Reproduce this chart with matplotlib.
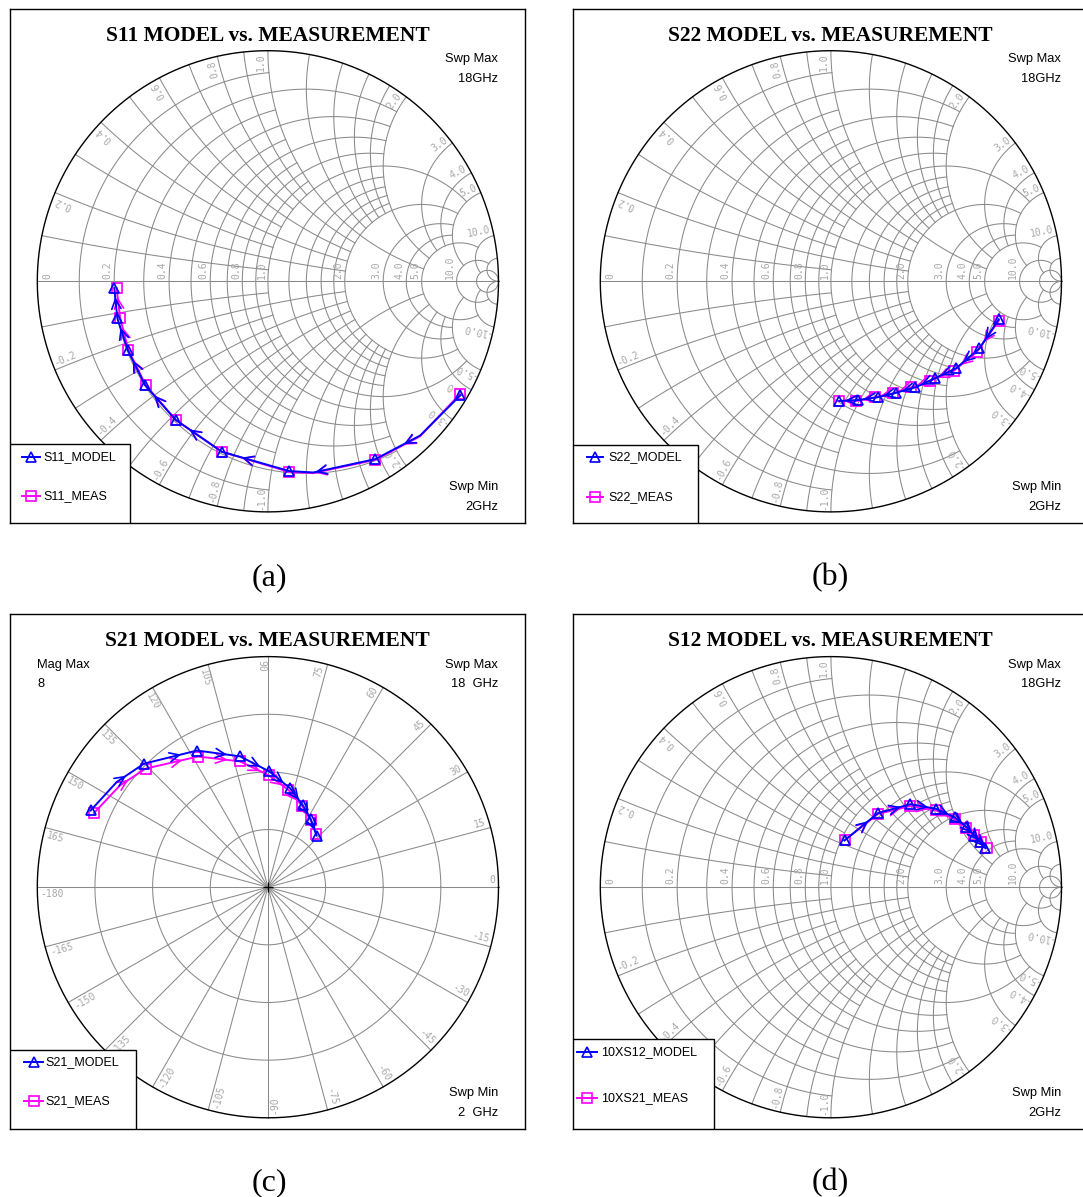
import numpy as np
import matplotlib
matplotlib.use("Agg")
import matplotlib.pyplot as plt
from matplotlib.patches import Rectangle

FIG_W, FIG_H = 1083, 1197

# ---------------- data ----------------
# S11 (reflection coefficient, real / imag); trace vertices and marker indices
s11_model_re = [0.835, 0.660, 0.466, 0.197, 0.093, -0.200, -0.400, -0.533, -0.608, -0.653, -0.666]
s11_model_im = [-0.494, -0.669, -0.771, -0.829, -0.823, -0.739, -0.601, -0.450, -0.298, -0.160, -0.030]
s11_meas_re = [0.832, 0.660, 0.466, 0.195, 0.090, -0.200, -0.400, -0.530, -0.605, -0.641, -0.656]
s11_meas_im = [-0.490, -0.672, -0.774, -0.832, -0.826, -0.739, -0.601, -0.450, -0.298, -0.158, -0.030]
s11_markers = [0, 2, 4, 5, 6, 7, 8, 9, 10]

# S22
s22_model_re = [0.728, 0.644, 0.543, 0.450, 0.366, 0.284, 0.203, 0.118, 0.037]
s22_model_im = [-0.165, -0.291, -0.377, -0.421, -0.460, -0.483, -0.503, -0.515, -0.519]
s22_meas_re = [0.728, 0.634, 0.533, 0.431, 0.349, 0.270, 0.190, 0.111, 0.034]
s22_meas_im = [-0.171, -0.305, -0.388, -0.431, -0.460, -0.486, -0.503, -0.519, -0.519]
s22_markers = [0, 1, 2, 3, 4, 5, 6, 7, 8]

# S21 (magnitude, angle in degrees), polar chart with Mag Max 8
s21_model_mag = [6.70, 6.39, 6.07, 5.34, 4.64, 4.02, 3.52, 3.09, 2.79, 2.46]
s21_model_ang = [156.6, 145.2, 135.1, 117.4, 102.0, 89.4, 77.4, 66.9, 57.8, 46.7]
s21_meas_mag = [6.56, 6.23, 5.91, 5.14, 4.47, 3.88, 3.45, 3.06, 2.76, 2.50]
s21_meas_ang = [156.9, 145.5, 135.9, 118.1, 102.5, 89.5, 78.1, 67.2, 57.4, 47.6]
s21_markers = [0, 2, 3, 4, 5, 6, 7, 8, 9]
S21_MAG_MAX = 8
S21_RINGS = [2, 4, 6]

# 10 x S12 model / 10 x S21 meas (reflection plane)
s12_model_re = [0.059, 0.205, 0.345, 0.456, 0.536, 0.588, 0.622, 0.648, 0.670]
s12_model_im = [0.203, 0.322, 0.360, 0.340, 0.303, 0.261, 0.224, 0.194, 0.169]
s12_meas_re = [0.059, 0.205, 0.345, 0.456, 0.536, 0.588, 0.622, 0.651, 0.677]
s12_meas_im = [0.203, 0.318, 0.352, 0.333, 0.295, 0.258, 0.228, 0.196, 0.169]
s12_markers = [0, 1, 2, 3, 4, 5, 6, 7, 8]

# Smith grid: constant-R circles / constant-X arcs and the limit of the other coordinate
SMITH_R = [0.1, 0.2, 0.3, 0.4, 0.5, 0.6, 0.7, 0.8, 0.9, 1.0, 1.2, 1.4, 1.6, 1.8, 2.0, 3.0, 4.0, 5.0, 10.0, 20.0]
SMITH_LIM = [1, 2, 1, 2, 1, 2, 1, 2, 1, 5, 2, 2, 2, 2, 5, 5, 5, 10, 20, np.inf]
SMITH_AXIS_LABELS = [0, 0.2, 0.4, 0.6, 0.8, 1.0, 2.0, 3.0, 4.0, 5.0, 10.0]
SMITH_RIM_LABELS = [0.2, 0.4, 0.6, 0.8, 1.0, 2.0, 3.0, 4.0, 5.0, 10.0]

BLUE = "#0000ff"
MAG = "#ff00ff"
GRID = "#8a8a8a"
LBL = "#a8a8a8"
SANS = "Liberation Sans"
SERIF = "Liberation Serif"
MONO = "DejaVu Sans Mono"
LBL_FS = 7.0

fig = plt.figure(figsize=(FIG_W / 100, FIG_H / 100), dpi=100)

BOX_W, BOX_H = 514.8, 514.1
OX, OY, RPX = 257.6, 272.7, 230.6


def rel(px, py):
    return ((px - OX) / RPX, (OY - py) / RPX)


def make_panel(bx, by):
    ax = fig.add_axes([bx / FIG_W, 1 - (by + BOX_H) / FIG_H, BOX_W / FIG_W, BOX_H / FIG_H])
    ax.set_xlim(-OX / RPX, (BOX_W - OX) / RPX)
    ax.set_ylim(-(BOX_H - OY) / RPX, OY / RPX)
    ax.set_xticks([])
    ax.set_yticks([])
    for s in ax.spines.values():
        s.set_linewidth(1.0)
        s.set_color("black")
    return ax


def gam(z):
    return (z - 1) / (z + 1)


def draw_rim(ax):
    th = np.linspace(0, 2 * np.pi, 1200)
    ax.plot(np.cos(th), np.sin(th), color="black", lw=1.0, zorder=2)


def draw_smith(ax):
    for r, lim in zip(SMITH_R, SMITH_LIM):
        t = np.linspace(-np.arctan(lim), np.arctan(lim), 900)
        g = gam(r + 1j * np.tan(t))
        ax.plot(g.real, g.imag, color=GRID, lw=0.75, zorder=1)
    for x, lim in zip(SMITH_R, SMITH_LIM):
        t = np.linspace(0, np.arctan(lim), 900)
        for sgn in (1, -1):
            g = gam(np.tan(t) + 1j * sgn * x)
            ax.plot(g.real, g.imag, color=GRID, lw=0.75, zorder=1)
    ax.plot([-1, 1], [0, 0], color=GRID, lw=0.75, zorder=1)
    draw_rim(ax)
    for r in SMITH_AXIS_LABELS:
        gx = (r - 1) / (r + 1)
        txt = "0" if r == 0 else f"{r:.1f}"
        if r == 0:
            ax.annotate(txt, (gx, 0), xytext=(4, 2), textcoords="offset points", rotation=90,
                        rotation_mode="anchor", ha="left", va="top", fontsize=LBL_FS,
                        color=LBL, family=MONO, zorder=3)
        else:
            ax.annotate(txt, (gx, 0), xytext=(-1, 2), textcoords="offset points", rotation=90,
                        rotation_mode="anchor", ha="left", va="bottom", fontsize=LBL_FS,
                        color=LBL, family=MONO, zorder=3)
    for x in SMITH_RIM_LABELS:
        for sgn in (1, -1):
            g = gam(1j * sgn * x)
            th = np.angle(g)
            p = 0.99 * g
            if sgn > 0:
                rot = np.degrees(th)
                ha = "right"
                up = th + np.pi / 2
                txt = f"{x:.1f}"
            else:
                rot = np.degrees(th) + 180
                ha = "left"
                up = th - np.pi / 2
                txt = f"-{x:.1f}"
            ax.annotate(txt, (p.real, p.imag), xytext=(1.3 * np.cos(up), 1.3 * np.sin(up)),
                        textcoords="offset points", rotation=rot, rotation_mode="anchor",
                        ha=ha, va="bottom", fontsize=LBL_FS, color=LBL, family=MONO, zorder=3)


def draw_polar(ax):
    th = np.linspace(0, 2 * np.pi, 1200)
    for m in S21_RINGS:
        rr = m / S21_MAG_MAX
        ax.plot(rr * np.cos(th), rr * np.sin(th), color=GRID, lw=0.75, zorder=1)
    for a in range(-165, 181, 15):
        ar = np.radians(a)
        ax.plot([0, np.cos(ar)], [0, np.sin(ar)], color=GRID, lw=0.75, zorder=1)
    draw_rim(ax)
    ax.plot([0], [0], marker="+", ms=7, color="black", mew=0.9, zorder=3)
    for a in range(-165, 181, 15):
        ar = np.radians(a)
        p = (0.985 * np.cos(ar), 0.985 * np.sin(ar))
        lab = "-180" if a == 180 else str(a)
        up = ar + np.pi / 2
        off = (1.3 * np.cos(up), 1.3 * np.sin(up))
        if -90 < a < 90:
            rot, ha, va = a, "right", "bottom"
        else:
            rot = a - 180 if a >= 90 else a + 180
            ha, va = "left", "top"
        ax.annotate(lab, p, xytext=off, textcoords="offset points", rotation=rot,
                    rotation_mode="anchor", ha=ha, va=va, fontsize=LBL_FS, color=LBL,
                    family=MONO, zorder=3)


def draw_trace(ax, xs, ys, mk, color, marker, z):
    xs = np.asarray(xs, float)
    ys = np.asarray(ys, float)
    ax.plot(xs, ys, color=color, lw=1.4, zorder=z, solid_joinstyle="round")
    ax.plot(xs[mk], ys[mk], ls="none", marker=marker, ms=7.8, mfc="none", mec=color,
            mew=1.25, zorder=z + 0.5)
    for i0, i1 in zip(mk[:-1], mk[1:]):
        px = xs[i0:i1 + 1]
        py = ys[i0:i1 + 1]
        seg = np.hypot(np.diff(px), np.diff(py))
        cum = np.concatenate([[0], np.cumsum(seg)])
        target = 0.7 * cum[-1]
        k = min(np.searchsorted(cum, target) - 1, len(seg) - 1)
        k = max(k, 0)
        f = (target - cum[k]) / seg[k]
        tx = px[k] + f * (px[k + 1] - px[k])
        ty = py[k] + f * (py[k + 1] - py[k])
        dx = (px[k + 1] - px[k]) / seg[k]
        dy = (py[k + 1] - py[k]) / seg[k]
        ax.annotate("", xy=(tx, ty), xytext=(tx - 0.015 * dx, ty - 0.015 * dy),
                    arrowprops=dict(arrowstyle="->,head_length=0.7,head_width=0.33",
                                    color=color, lw=1.2, shrinkA=0, shrinkB=0),
                    zorder=z + 0.2)


def panel_text(ax, title, top_right, bottom_right, top_left=None):
    x, y = rel(257.4, 32.0)
    ax.text(x, y, title, ha="center", va="baseline", fontsize=15.5, fontweight="bold",
            family=SERIF, zorder=7)
    for (txt, ry) in zip(top_right, (50.8, 69.9)):
        x, y = rel(488.0, ry)
        ax.text(x, y, txt, ha="right", va="center", fontsize=9.3, family=SANS, zorder=7)
    for (txt, ry) in zip(bottom_right, (478.7, 498.4)):
        x, y = rel(488.0, ry)
        ax.text(x, y, txt, ha="right", va="center", fontsize=9.3, family=SANS, zorder=7)
    if top_left:
        for (txt, ry) in zip(top_left, (50.8, 69.9)):
            x, y = rel(26.9, ry)
            ax.text(x, y, txt, ha="left", va="center", fontsize=9.3, family=SANS, zorder=7)


def legend(ax, w, top, rows, lx, tx, labels):
    x0, y0 = rel(0, BOX_H)
    x1, y1 = rel(w, top)
    ax.add_patch(Rectangle((x0, y0), x1 - x0, y1 - y0, facecolor="white", edgecolor="black",
                           lw=1.0, zorder=8))
    for ry, lab, col, mk in zip(rows, labels, (BLUE, MAG), ("^", "s")):
        a, yy = rel(lx[0], ry)
        b, _ = rel(lx[1], ry)
        ax.plot([a, b], [yy, yy], color=col, lw=1.4, zorder=9)
        ax.plot([(a + b) / 2], [yy], marker=mk, ms=7.5, mfc="none", mec=col, mew=1.2, zorder=9)
        t, _ = rel(tx, ry)
        ax.text(t, yy, lab, ha="left", va="center", fontsize=9.0, family=SANS, zorder=9)


# ---------------- panel (a) ----------------
ax = make_panel(10.3, 8.6)
draw_smith(ax)
draw_trace(ax, s11_meas_re, s11_meas_im, s11_markers, MAG, "s", 4)
draw_trace(ax, s11_model_re, s11_model_im, s11_markers, BLUE, "^", 5)
panel_text(ax, "S11 MODEL vs. MEASUREMENT", ("Swp Max", "18GHz"), ("Swp Min", "2GHz"))
legend(ax, 119.9, 435.6, (448.0, 487.3), (12.1, 29.3), 32.7, ("S11_MODEL", "S11_MEAS"))

# ---------------- panel (b) ----------------
ax = make_panel(573.3, 8.6)
draw_smith(ax)
draw_trace(ax, s22_meas_re, s22_meas_im, s22_markers, MAG, "s", 4)
draw_trace(ax, s22_model_re, s22_model_im, s22_markers, BLUE, "^", 5)
panel_text(ax, "S22 MODEL vs. MEASUREMENT", ("Swp Max", "18GHz"), ("Swp Min", "2GHz"))
legend(ax, 124.4, 436.3, (448.0, 488.0), (13.4, 30.0), 35.0, ("S22_MODEL", "S22_MEAS"))

# ---------------- panel (c) ----------------
ax = make_panel(10.3, 614.5)
draw_polar(ax)
for mag_, ang_, col, mk, z in ((s21_meas_mag, s21_meas_ang, MAG, "s", 4),
                               (s21_model_mag, s21_model_ang, BLUE, "^", 5)):
    m = np.asarray(mag_) / S21_MAG_MAX
    a = np.radians(ang_)
    draw_trace(ax, m * np.cos(a), m * np.sin(a), s21_markers, col, mk, z)
panel_text(ax, "S21 MODEL vs. MEASUREMENT", ("Swp Max", "18  GHz"), ("Swp Min", "2  GHz"),
           top_left=("Mag Max", str(S21_MAG_MAX)))
legend(ax, 126.1, 435.6, (448.0, 486.5), (13.8, 32.7), 35.5, ("S21_MODEL", "S21_MEAS"))

# ---------------- panel (d) ----------------
ax = make_panel(573.3, 614.5)
draw_smith(ax)
draw_trace(ax, s12_meas_re, s12_meas_im, s12_markers, MAG, "s", 4)
draw_trace(ax, s12_model_re, s12_model_im, s12_markers, BLUE, "^", 5)
panel_text(ax, "S12 MODEL vs. MEASUREMENT", ("Swp Max", "18GHz"), ("Swp Min", "2GHz"))
legend(ax, 140.7, 424.5, (437.3, 483.1), (4.0, 24.0), 27.4, ("10XS12_MODEL", "10XS21_MEAS"))

# ---------------- sub-captions ----------------
for lab, cx, cy in (("(a)", 269.6, 578.0), ("(b)", 830.0, 578.0),
                    ("(c)", 269.6, 1183.0), ("(d)", 830.0, 1183.0)):
    fig.text(cx / FIG_W, 1 - cy / FIG_H, lab, ha="center", va="center", fontsize=23, family=SERIF)

fig.savefig("out.png", dpi=100, facecolor="white")
